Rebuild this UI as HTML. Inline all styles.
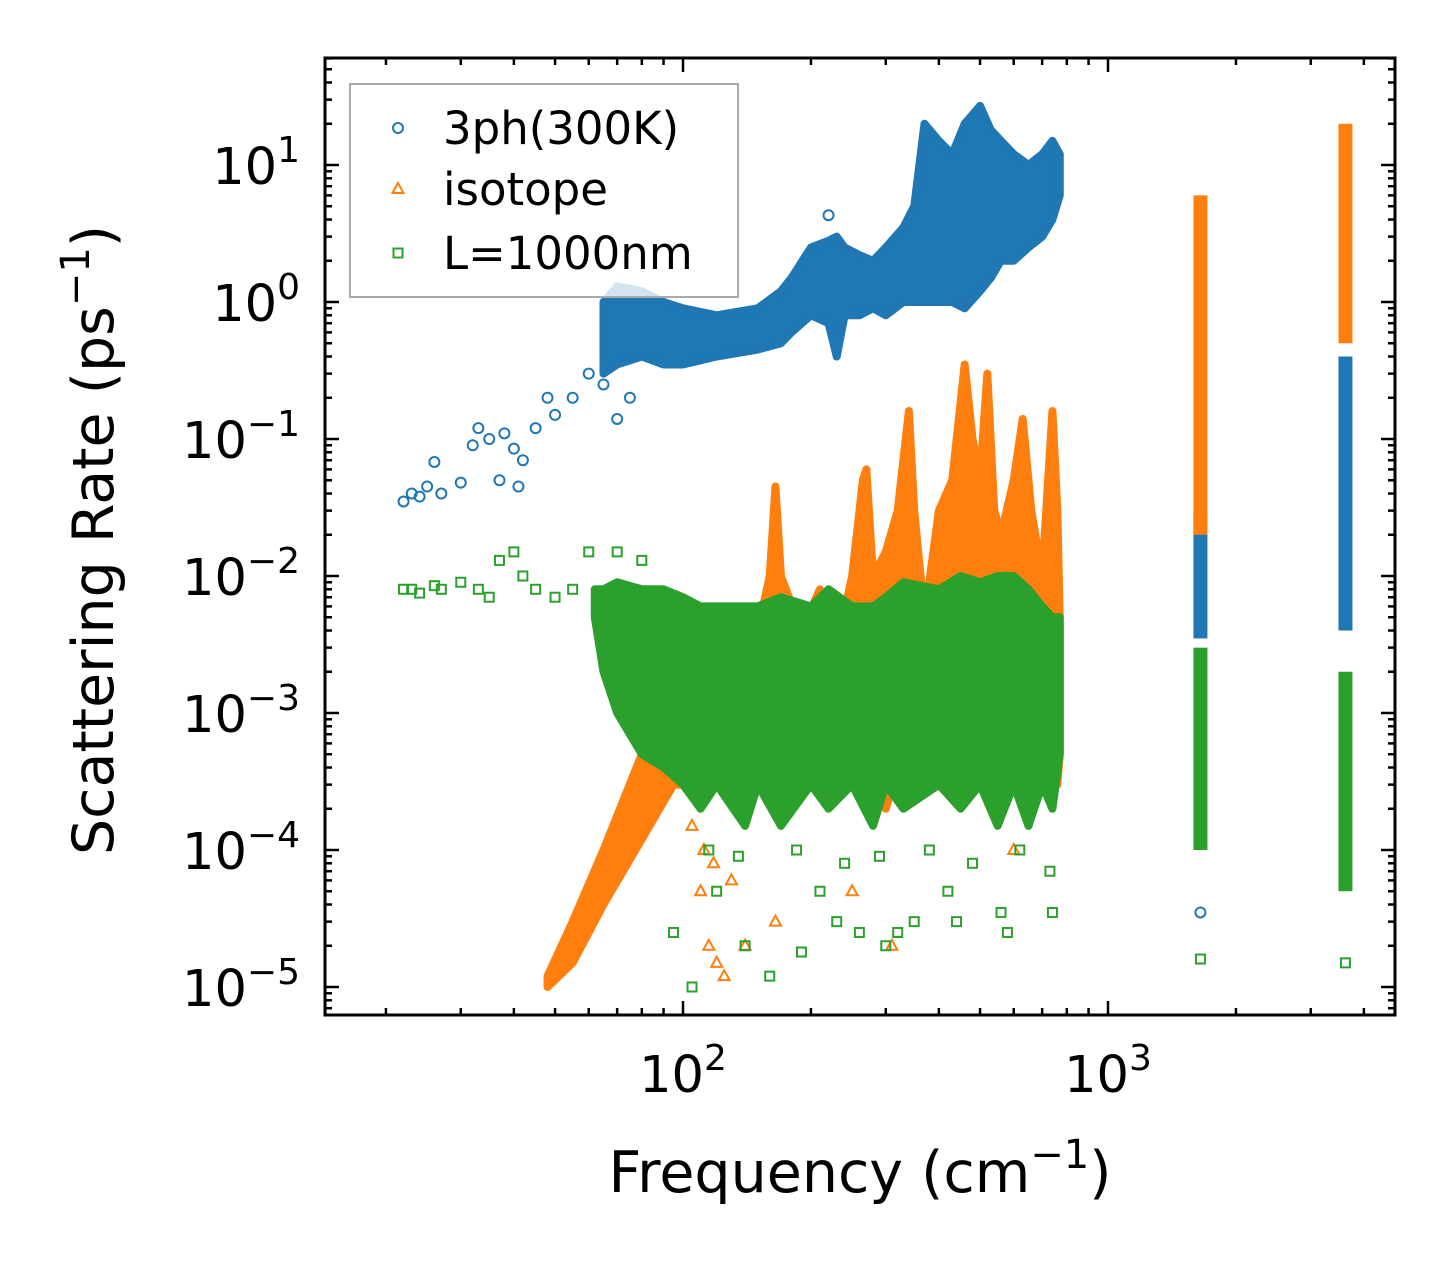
<!DOCTYPE html>
<html><head><meta charset="utf-8"><style>
body{margin:0;background:#fff}
svg text{font-family:"DejaVu Sans","Liberation Sans",sans-serif;fill:#000}
</style></head><body>
<svg id="chart" width="1455" height="1265" xmlns="http://www.w3.org/2000/svg">
<g id="bands"></g><g id="pts"></g><g id="axes"></g>
</svg>
<script>
const blueX=[65,70,80,90,100,120,150,170,180,200,220,230,240,260,280,300,330,350,370,400,430,460,500,530,560,600,650,700,740,770];
const blueHi=[1.0,1.3,1.2,1.0,0.9,0.8,0.9,1.2,1.5,2.5,2.8,3,2.5,2.2,2,2.5,3.5,5,20,15,12,20,27,18,15,12,10,12,15,12];
const blueLo=[0.3,0.35,0.4,0.35,0.35,0.4,0.45,0.5,0.6,0.8,0.7,0.4,0.8,0.8,0.9,0.8,1,1,1,1,1,0.9,1.2,1.5,2,2,2.5,3,4,6];
const blueOutX=[22,23,24,25,26,27,30,32,33,35,37,38,40,41,42,45,48,50,55,60,65,70,75,220,1650];
const blueOutY=[0.035,0.04,0.038,0.045,0.068,0.04,0.048,0.09,0.12,0.1,0.05,0.11,0.085,0.045,0.07,0.12,0.2,0.15,0.2,0.3,0.25,0.14,0.2,4.3,3.5e-5];
const orX=[48,55,65,80,95,110,130,150,160,165,170,190,210,230,250,265,270,280,300,320,340,350,370,400,430,460,480,500,520,540,560,600,630,660,700,740,760,770];
const orHi=[1.2e-5,3e-5,1e-4,5e-4,1.2e-3,2e-3,3e-3,4e-3,1e-2,4.5e-2,1e-2,4e-3,8e-3,3e-3,1e-2,5e-2,6e-2,1e-2,1.5e-2,3e-2,1.6e-1,3e-2,5e-3,3e-2,5e-2,3.5e-1,1e-1,5e-2,3e-1,3e-2,2e-2,5e-2,1.4e-1,3e-2,1e-2,1.6e-1,3e-2,5e-3];
const orLo=[1e-5,1.5e-5,4e-5,1.2e-4,3e-4,3e-4,5e-4,4e-4,3e-4,5e-4,6e-4,5e-4,4e-4,3e-4,5e-4,5e-4,4e-4,3e-4,2e-4,4e-4,5e-4,3e-4,5e-4,4e-4,5e-4,4e-4,3e-4,4e-4,4e-4,3e-4,3e-4,3e-4,3e-4,2e-4,3e-4,3e-4,3e-4,5e-4];
const orOutX=[110,115,120,125,140,165,250,310,600,105,112,118,130];
const orOutY=[5e-5,2e-5,1.5e-5,1.2e-5,2e-5,3e-5,5e-5,2e-5,1e-4,1.5e-4,1e-4,8e-5,6e-5];
const grX=[62,65,70,80,90,100,110,120,140,150,170,200,220,250,280,300,330,400,450,500,550,600,650,700,740,770];
const grHi=[8e-3,8e-3,9e-3,8e-3,8e-3,7e-3,6e-3,6e-3,6e-3,6e-3,7e-3,6e-3,8e-3,6e-3,6e-3,7e-3,9e-3,8e-3,1e-2,9e-3,1e-2,1e-2,8e-3,6e-3,5e-3,5e-3];
const grLo=[5e-3,2e-3,1e-3,5e-4,4e-4,3e-4,2e-4,3e-4,1.5e-4,3e-4,1.5e-4,3e-4,2e-4,3e-4,1.5e-4,3e-4,2e-4,3e-4,2e-4,3e-4,1.5e-4,3e-4,1.5e-4,3e-4,2e-4,5e-4];
const grOutX=[22,23,24,26,27,30,33,35,37,40,42,45,50,55,60,70,80,95,105,120,140,160,190,210,230,260,300,320,350,420,440,560,580,740,1650,3620,115,135,185,240,290,380,480,620,730];
const grOutY=[8e-3,8e-3,7.5e-3,8.5e-3,8e-3,9e-3,8e-3,7e-3,1.3e-2,1.5e-2,1e-2,8e-3,7e-3,8e-3,1.5e-2,1.5e-2,1.3e-2,2.5e-5,1e-5,5e-5,2e-5,1.2e-5,1.8e-5,5e-5,3e-5,2.5e-5,2e-5,2.5e-5,3e-5,5e-5,3e-5,3.5e-5,2.5e-5,3.5e-5,1.6e-5,1.5e-5,1e-4,9e-5,1e-4,8e-5,9e-5,1e-4,8e-5,1e-4,7e-5];
const colX=[1650,3620];
const blueColLo=[3.5e-3,4e-3], blueColHi=[3e-2,0.4];
const orColLo=[0.02,0.5], orColHi=[6,20];
const grColLo=[1e-4,5e-5], grColHi=[3e-3,2e-3];
const xTicks=[2,3], yTicks=[1,0,-1,-2,-3,-4,-5];

const L=325,R=1395,T=58,B=1015;
const xs=v=>683+425*(Math.log10(v)-2);
const ys=v=>302-137*Math.log10(v);
const NS="http://www.w3.org/2000/svg";
function mk(tag,attrs,parent){const e=document.createElementNS(NS,tag);for(const k in attrs)e.setAttribute(k,attrs[k]);parent.appendChild(e);return e;}
const bands=document.getElementById('bands'),pts=document.getElementById('pts'),axes=document.getElementById('axes');
const C={b:'#1f77b4',o:'#ff7f0e',g:'#2ca02c'};
function band(X,lo,hi,col,name){
  let p=X.map((x,i)=>xs(x)+','+ys(hi[i]));
  for(let i=X.length-1;i>=0;i--)p.push(xs(X[i])+','+ys(lo[i]));
  const e=mk('polygon',{points:p.join(' '),fill:col,stroke:col,'stroke-width':8,'stroke-linejoin':'round'},bands);
  
  
}
function cols(lo,hi,col,name){
  colX.forEach((x,i)=>{
    const e=mk('rect',{x:xs(x)-7,y:ys(hi[i]),width:14,height:ys(lo[i])-ys(hi[i]),fill:col},bands);
    
    
  });
}
function marker(type,x,y,col,par){
  let e;
  if(type==='b')e=mk('circle',{cx:x,cy:y,r:5,fill:'none',stroke:col,'stroke-width':2},par);
  else if(type==='o')e=mk('polygon',{points:`${x},${y-6} ${x-5.5},${y+4} ${x+5.5},${y+4}`,fill:'none',stroke:col,'stroke-width':2},par);
  else e=mk('rect',{x:x-4.5,y:y-4.5,width:9,height:9,fill:'none',stroke:col,'stroke-width':2},par);
  return e;
}
function outs(X,Y,t,name){X.forEach((x,i)=>{const e=marker(t,xs(x),ys(Y[i]),C[t],pts);});}
band(blueX,blueLo,blueHi,C.b,'3ph-band');cols(blueColLo,blueColHi,C.b,'3ph-column');outs(blueOutX,blueOutY,'b','3ph-point');
band(orX,orLo,orHi,C.o,'isotope-band');cols(orColLo,orColHi,C.o,'isotope-column');outs(orOutX,orOutY,'o','isotope-point');
band(grX,grLo,grHi,C.g,'boundary-band');cols(grColLo,grColHi,C.g,'boundary-column');outs(grOutX,grOutY,'g','boundary-point');

const fr=mk('rect',{x:L,y:T,width:R-L,height:B-T,fill:'none',stroke:'#000','stroke-width':3},axes);

for(let d=1;d<=3;d++)for(let m=1;m<10;m++){const v=m*Math.pow(10,d),x=xs(v);if(x<L||x>R)continue;const len=m===1?14:7;
  mk('line',{x1:x,y1:B,x2:x,y2:B-len,stroke:'#000','stroke-width':2.5},axes);mk('line',{x1:x,y1:T,x2:x,y2:T+len,stroke:'#000','stroke-width':2.5},axes);}
for(let d=-6;d<=1;d++)for(let m=1;m<10;m++){const v=m*Math.pow(10,d),y=ys(v);if(y<T||y>B)continue;const len=m===1?14:7;
  mk('line',{x1:L,y1:y,x2:L+len,y2:y,stroke:'#000','stroke-width':2.5},axes);mk('line',{x1:R,y1:y,x2:R-len,y2:y,stroke:'#000','stroke-width':2.5},axes);}
xTicks.forEach(p=>{const t=mk('text',{x:xs(Math.pow(10,p)),y:1092,'font-size':51,'text-anchor':'middle'},axes);
  t.innerHTML=`10<tspan dy="-22" font-size="36">${p}</tspan>`;});
yTicks.forEach(p=>{const t=mk('text',{x:300,y:ys(Math.pow(10,p))+19,'font-size':51,'text-anchor':'end'},axes);
  t.innerHTML=`10<tspan dy="-22" font-size="36">${p<0?'−'+(-p):p}</tspan>`;});
const xt=mk('text',{x:860,y:1192,'font-size':57,'text-anchor':'middle'},axes);
xt.innerHTML='Frequency (cm<tspan dy="-24" font-size="40">−1</tspan><tspan dy="24">)</tspan>';

const yt=mk('text',{x:0,y:0,'font-size':57,'text-anchor':'middle',transform:'translate(113,540) rotate(-90)'},axes);
yt.innerHTML='Scattering Rate (ps<tspan dy="-24" font-size="40">−1</tspan><tspan dy="24">)</tspan>';

const lg=mk('g',{},axes);
mk('rect',{x:350,y:84,width:388,height:213,fill:'#fff','fill-opacity':0.8,stroke:'#aaa','stroke-width':2},lg);
[['b','3ph(300K)',128],['o','isotope',189],['g','L=1000nm',253]].forEach(([t,s,y])=>{
  const m=marker(t,398,y,C[t],lg);
  const e=mk('text',{x:443,y:y+16,'font-size':45},lg);e.textContent=s;});
</script>
</body></html>
